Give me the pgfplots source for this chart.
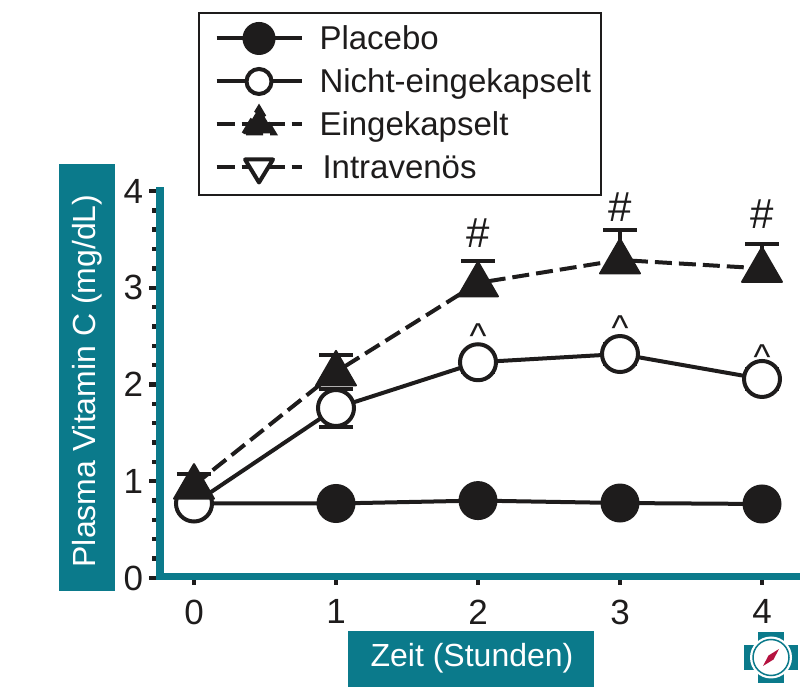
\documentclass[border=0pt]{standalone}
\usepackage{fontspec}
\setmainfont{Liberation Sans}
\usepackage{pgfplots}
\pgfplotsset{compat=1.18}
\definecolor{tealc}{HTML}{0B7A8B}
\definecolor{inkc}{HTML}{1E1C1C}
\definecolor{redc}{HTML}{B5123F}
\newcommand{\fs}[1]{\fontsize{#1}{#1}\selectfont}
\begin{document}
\begin{tikzpicture}[x=1pt,y=1pt]
\path[use as bounding box] (0,0) rectangle (800,687);
\fill[tealc] (59,96) rectangle (115,523);
\fill[tealc] (348,0) rectangle (594,56);
\begin{axis}[
  at={(160pt,109pt)}, anchor=south west, scale only axis,
  width=640pt, height=391pt,
  xmin=-0.2394, xmax=4.2676, ymin=0, ymax=4.0413,
  clip=false,
  axis x line*=bottom, axis y line*=left,
  axis line style={draw=none},
  xtick={0,1,2,3,4}, ytick={0,1,2,3,4},
  minor y tick num=4,
  x tick style={inkc,/pgfplots/major tick length=7pt},
  y tick style={inkc,/pgfplots/major tick length=11pt},
  minor tick length=8pt,
  tick align=outside,
  /pgf/number format/assume math mode=true,
  tick label style={font=\fs{35},text=inkc},
  xticklabel style={yshift=-14pt},
  yticklabel style={xshift=-9pt},
  xlabel={Zeit (Stunden)}, ylabel={Plasma Vitamin C (mg/dL)},
  xlabel style={at={(axis description cs:0.4875,-0.2046)},anchor=center,font=\fs{32},text=white},
  ylabel style={at={(axis description cs:-0.114,0.504)},anchor=center,font=\fs{32},text=white},
  legend style={at={(axis description cs:0.0594,1.4476)},anchor=north west,
    draw=inkc,line width=2pt,font=\fs{33},text=inkc,
    inner xsep=9.5pt,inner ysep=6pt,
    row sep=2pt,
    nodes={inner sep=0pt,text height=31pt,text depth=10pt},
    /tikz/every odd column/.append style={column sep=16pt}},
  legend cell align=left,
]
% Placebo
\addplot[inkc,line width=4pt,mark=*,mark size=18.5pt,mark options={solid,fill=inkc,draw=inkc,line width=2pt},
  legend image code/.code={
    \path (0pt,0pt);
    \draw[inkc,line width=4pt] (6pt,1pt)--(91pt,1pt);
    \fill[inkc] (48.5pt,1pt) circle (14.5pt);}]
  coordinates {(0,0.77) (1,0.77) (2,0.80) (3,0.775) (4,0.765)};
\addlegendentry{Placebo}
% Nicht-eingekapselt
\addplot[inkc,line width=4pt,mark=*,mark size=18pt,
  mark options={solid,fill=white,draw=inkc,line width=4pt},
  error bars/.cd,y dir=both,y explicit,error mark=-,
  error bar style={inkc,line width=4pt,solid},
  error mark options={inkc,line width=4pt,mark size=17pt,rotate=90},
  /pgfplots/legend image code/.code={
    \path (0pt,0pt);
    \draw[inkc,line width=4pt] (6pt,1pt)--(91pt,1pt);
    \draw[inkc,fill=white,line width=4pt] (48.5pt,1pt) circle (12.5pt);}]
  coordinates {(0,0.77) +- (0,0.05) (1,1.757) +- (0,0.197) (2,2.23) +- (0,0.10) (3,2.315) +- (0,0.10) (4,2.057) +- (0,0.10)};
\addlegendentry{Nicht-eingekapselt}
% Eingekapselt
\addplot[inkc,line width=4pt,dash pattern=on 17pt off 7pt,mark=triangle*,mark size=23pt,
  mark options={solid,fill=inkc,draw=inkc,line width=2pt,line join=round,yshift=-2pt},
  error bars/.cd,y dir=plus,y explicit,error mark=-,
  error bar style={inkc,line width=4pt,solid},
  error mark options={inkc,line width=4pt,mark size=17pt,rotate=90,solid},
  /pgfplots/legend image code/.code={
    \path (0pt,0pt);
    \draw[inkc,line width=4pt,dash pattern=on 18pt off 7pt] (6pt,1pt)--(91pt,1pt);
    \fill[inkc] (33pt,-8pt)--(48.5pt,18pt)--(64pt,-8pt)--cycle;}]
  coordinates {(0,0.96) += (0,0.115) (1,2.13) += (0,0.175) (2,3.05) += (0,0.227) (3,3.287) += (0,0.31) (4,3.20) += (0,0.257)};
\addlegendentry{Eingekapselt}
% Intravenös (legend only)
\addlegendimage{legend image code/.code={
    \path (0pt,0pt);
    \draw[inkc,line width=4pt,dash pattern=on 18pt off 7pt] (6pt,1pt)--(91pt,1pt);
    \draw[inkc,fill=white,line width=4pt,line join=round] (34.5pt,9pt)--(62.5pt,9pt)--(48.5pt,-14pt)--cycle;}}
\addlegendentry{\hspace*{3pt}Intravenös}
% annotations
\node[anchor=base,font=\fs{42},text=inkc,inner sep=0pt] at (axis cs:2,3.42) {\#};
\node[anchor=base,font=\fs{42},text=inkc,inner sep=0pt] at (axis cs:3,3.68) {\#};
\node[anchor=base,font=\fs{42},text=inkc,inner sep=0pt] at (axis cs:4,3.617) {\#};
\node[anchor=base,font=\fs{36},text=inkc,inner sep=0pt] at (axis cs:2,2.377) {\textasciicircum};
\node[anchor=base,font=\fs{36},text=inkc,inner sep=0pt] at (axis cs:3,2.45) {\textasciicircum};
\node[anchor=base,font=\fs{36},text=inkc,inner sep=0pt] at (axis cs:4,2.16) {\textasciicircum};
\end{axis}
% heavier tick strokes over the axis's own ticks
\foreach \i in {0,...,20} {
  \pgfmathsetmacro{\yy}{109+19.35*\i}
  \draw[inkc,line width=4.4pt] (152,\yy) -- (160,\yy);
}
\foreach \i in {0,...,4} {
  \pgfmathsetmacro{\yy}{109+96.75*\i}
  \pgfmathsetmacro{\xx}{194+142*\i}
  \draw[inkc,line width=4.4pt] (149,\yy) -- (160,\yy);
  \draw[inkc,line width=4.4pt] (\xx,102) -- (\xx,110);
}
% teal axis lines
\fill[tealc] (156,107) rectangle (164,500);
\fill[tealc] (156,107) rectangle (800,114);
% logo
\begin{scope}[shift={(771,29.5)}]
\fill[tealc] (-13,-25.5) rectangle (13,25.5);
\fill[tealc] (-27,-12.5) rectangle (27,12.5);
\fill[white] (0,0) circle (21);
\draw[tealc,line width=1.5pt] (0,0) circle (18);
\fill[redc] (-8,-8.5) -- (2.5,-2) -- (8,8.5) -- (-2.5,2) -- cycle;
\end{scope}
\end{tikzpicture}
\end{document}
